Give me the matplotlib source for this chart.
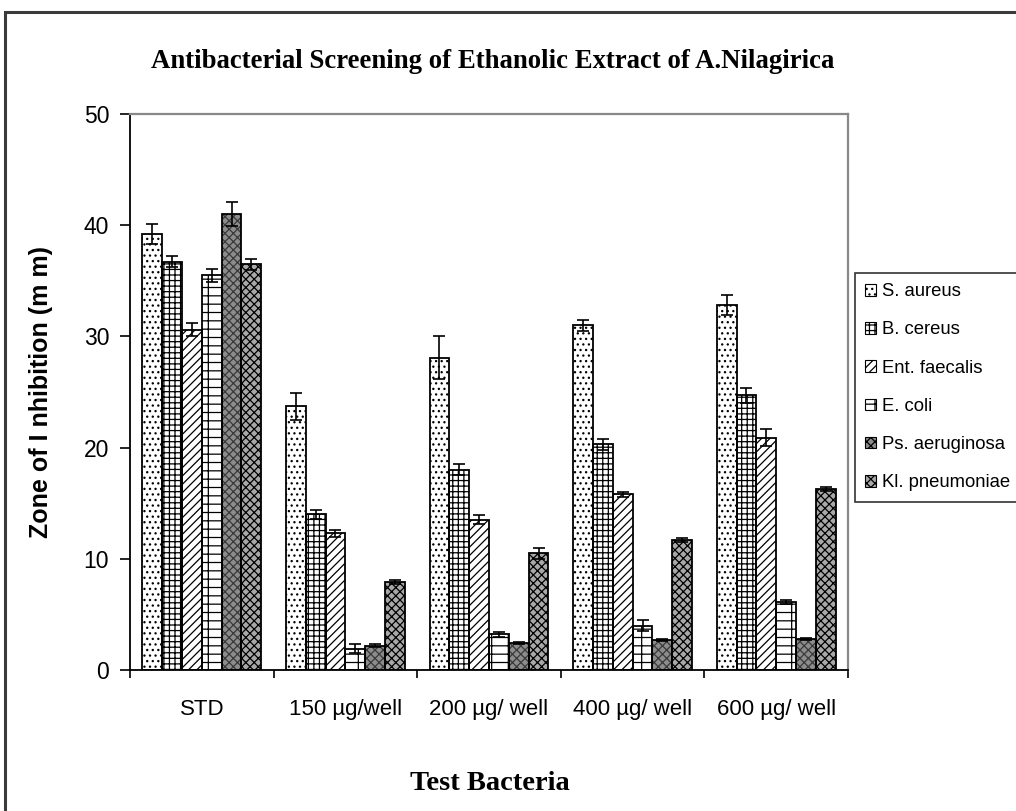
import numpy as np
import matplotlib
matplotlib.use('Agg')
import matplotlib.pyplot as plt
from matplotlib.patches import Rectangle

### donnees

groupes = ['STD', '150 µg/well', '200 µg/ well', '400 µg/ well', '600 µg/ well']
bacteries = ['S. aureus', 'B. cereus', 'Ent. faecalis', 'E. coli', 'Ps. aeruginosa', 'Kl. pneumoniae']

s_aureus = [39.2, 23.7, 28.1, 31.0, 32.8]
b_cereus = [36.7, 14.0, 18.0, 20.3, 24.7]
ent_faecalis = [30.6, 12.3, 13.5, 15.8, 20.9]
e_coli = [35.5, 1.9, 3.2, 4.0, 6.1]
ps_aeruginosa = [41.0, 2.2, 2.4, 2.7, 2.8]
kl_pneumoniae = [36.5, 7.9, 10.5, 11.7, 16.3]

err_s_aureus = [0.9, 1.2, 1.9, 0.5, 0.9]
err_b_cereus = [0.5, 0.4, 0.5, 0.5, 0.7]
err_ent_faecalis = [0.6, 0.3, 0.4, 0.2, 0.8]
err_e_coli = [0.6, 0.4, 0.2, 0.5, 0.2]
err_ps_aeruginosa = [1.1, 0.1, 0.1, 0.1, 0.1]
err_kl_pneumoniae = [0.5, 0.2, 0.5, 0.2, 0.2]

valeurs = [s_aureus, b_cereus, ent_faecalis, e_coli, ps_aeruginosa, kl_pneumoniae]
erreurs = [err_s_aureus, err_b_cereus, err_ent_faecalis, err_e_coli, err_ps_aeruginosa, err_kl_pneumoniae]

# motifs (a peu pres ceux d'Excel)
motifs = ['...', '+++', '////', '--|', 'xxxx', 'XXXX']
fonds = ['white', 'white', 'white', 'white', '#8c8c8c', '#a8a8a8']
couleurs_motif = ['black', 'black', 'black', 'black', '#3a3a3a', 'black']

plt.rcParams['font.family'] = ['Liberation Sans', 'DejaVu Sans']
plt.rcParams['hatch.linewidth'] = 0.9

fig = plt.figure(figsize=(10.16, 8.11), dpi=100)

# cadre exterieur
fig.patches.append(Rectangle((5, -20), 1100, 819, transform=None, fill=False,
                             edgecolor='#3a3a3a', linewidth=2.2))

ax = fig.add_axes([130/1016, 1 - 670/811, 718/1016, (670 - 114)/811])

x = np.arange(len(groupes))
largeur = 0.138

poignees = []
for i in range(len(bacteries)):
    pos = x + (i - 2.5)*largeur
    ax.bar(pos, valeurs[i], largeur, color=fonds[i], hatch=motifs[i],
           edgecolor=couleurs_motif[i], linewidth=0, zorder=2)
    ax.bar(pos, valeurs[i], largeur, fill=False, edgecolor='black', linewidth=1.3, zorder=3)
    ax.errorbar(pos, valeurs[i], yerr=erreurs[i], fmt='none', ecolor='black',
                elinewidth=1.2, capsize=4.5, capthick=1.2, zorder=4)
    poignees.append(Rectangle((0, 0), 1, 1, facecolor=fonds[i], hatch=motifs[i],
                              edgecolor='black', linewidth=0.8))

ax.set_xlim(-0.5, 4.5)
ax.set_ylim(0, 50)
ax.set_yticks([0, 10, 20, 30, 40, 50])
ax.set_xticks(x)
ax.set_xticklabels(groupes)
ax.set_xticks(np.arange(-0.5, 4.6, 1), minor=True)
ax.tick_params(axis='x', which='major', length=0, pad=21, labelsize=16)
ax.tick_params(axis='x', which='minor', length=6, width=1.2, direction='out')
ax.tick_params(axis='y', length=7, width=1.2, direction='out', labelsize=16.5, pad=8)

ax.spines['left'].set_linewidth(1.3)
ax.spines['bottom'].set_linewidth(1.3)
ax.spines['top'].set_color('#888888')
ax.spines['right'].set_color('#888888')
ax.spines['top'].set_linewidth(1.6)
ax.spines['right'].set_linewidth(1.6)

ax.set_ylabel('Zone of I nhibition (m m)', fontsize=18, fontweight='bold')
ax.yaxis.set_label_coords(-0.107, 0.5)

fig.text(493/1016, 1 - 62/811, 'Antibacterial Screening of Ethanolic Extract of A.Nilagirica',
         ha='center', va='center', fontsize=19.3, fontweight='bold', family='Liberation Serif')
fig.text(490/1016, 1 - 783/811, 'Test Bacteria', ha='center', va='center',
         fontsize=20.5, fontweight='bold', family='Liberation Serif')

leg = fig.legend(poignees, bacteries, loc='upper left',
                 bbox_to_anchor=(855/1016, 1 - 273/811), fontsize=13.3,
                 frameon=True, fancybox=False, handlelength=0.6, handleheight=0.6,
                 handletextpad=0.3, labelspacing=1.15, borderpad=0.55, borderaxespad=0)
leg.get_frame().set_edgecolor('black')
leg.get_frame().set_linewidth(1.2)

plt.savefig('out.png', dpi=100)
